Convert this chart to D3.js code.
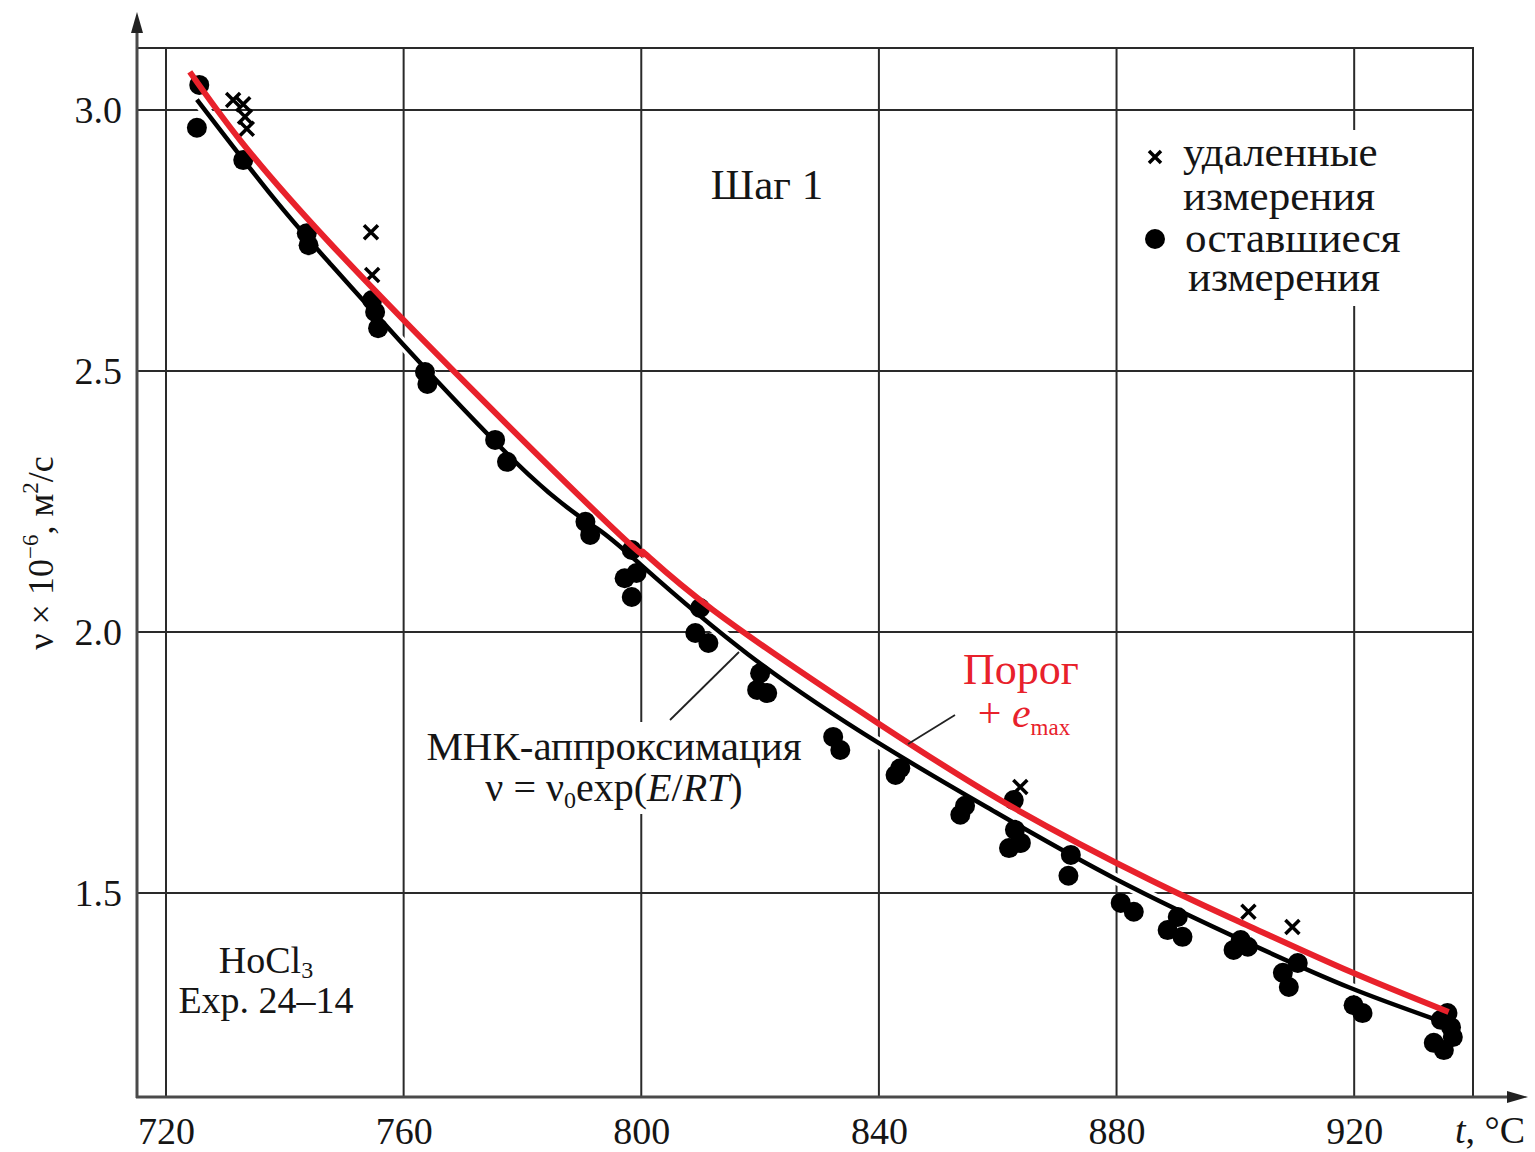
<!DOCTYPE html>
<html>
<head>
<meta charset="utf-8">
<script src="https://d3js.org/d3.v7.min.js"></script>
<style>
  body { margin: 0; background: #fff; }
  svg text { font-family: "Liberation Serif", "Times New Roman", serif; fill: #151515; }
  .grid line { stroke: #2a2a2a; stroke-width: 2; }
  .axis-line { stroke: #4a4a4a; stroke-width: 3; }
  .tick text { font-size: 38px; }
</style>
</head>
<body>
<script>
// ---- data ----
var xTicks = [720, 760, 800, 840, 880, 920];
var yTicks = [1.5, 2.0, 2.5, 3.0];

// remaining measurements (dots)
var keptT = [725.6, 725.2, 733.0, 743.7, 744.0, 754.7, 755.2, 755.7, 763.6, 764.0,
             775.4, 777.4, 790.6, 791.4, 798.4, 797.2, 798.4, 799.2, 809.9, 809.1, 811.3,
             820.0, 819.5, 821.2, 832.3, 833.5, 842.8, 843.6, 853.7, 854.5,
             862.7, 862.9, 861.9, 863.9, 872.3, 871.9, 880.7, 882.9,
             888.6, 891.1, 890.3, 899.7, 902.1, 900.9, 908.0, 909.0, 910.5, 919.9, 921.4,
             934.6, 936.3, 933.4, 935.1, 936.6, 935.7];
var keptV = [3.048, 2.966, 2.904, 2.764, 2.741, 2.636, 2.613, 2.582, 2.498, 2.475,
             2.368, 2.326, 2.211, 2.186, 2.157, 2.103, 2.067, 2.113, 2.046, 1.998, 1.979,
             1.921, 1.889, 1.883, 1.799, 1.774, 1.726, 1.739, 1.650, 1.667,
             1.678, 1.621, 1.586, 1.596, 1.573, 1.533, 1.481, 1.464,
             1.429, 1.416, 1.454, 1.391, 1.397, 1.410, 1.347, 1.320, 1.366, 1.285, 1.270,
             1.257, 1.243, 1.213, 1.199, 1.224, 1.270];

// removed measurements (crosses)
var removedT = [731.3, 733.0, 733.3, 733.6, 754.5, 754.7, 863.8, 902.2, 909.6];
var removedV = [3.019, 3.011, 2.987, 2.964, 2.766, 2.684, 1.703, 1.464, 1.435];

// least squares fit (black)
var fitT = [725.2, 738.0, 747.6, 760.0, 781.0, 792.6, 800.0, 818.0, 840.0, 859.0, 880.0, 902.6, 919.4, 933.4];
var fitV = [3.020, 2.833, 2.706, 2.550, 2.302, 2.198, 2.128, 1.957, 1.787, 1.659, 1.526, 1.402, 1.318, 1.259];

// threshold = fit + e_max (red)
var limT = [724.0, 747.6, 793.1, 800.2, 812.1, 840.3, 862.7, 885.7, 902.6, 919.4, 935.9];
var limV = [3.073, 2.745, 2.222, 2.154, 2.042, 1.822, 1.663, 1.525, 1.435, 1.349, 1.272];

var keptData = keptT.map(function(t, i) { return {t: t, v: keptV[i]}; });
var removedData = removedT.map(function(t, i) { return {t: t, v: removedV[i]}; });
var fitData = fitT.map(function(t, i) { return {t: t, v: fitV[i]}; });
var limData = limT.map(function(t, i) { return {t: t, v: limV[i]}; });

// ---- layout ----
var width = 1535, height = 1152,
    axisX = 137, plotTop = 48, axisY = 1097;

var x = d3.scaleLinear().domain([720, 940]).range([166, 1473]);
var y = d3.scaleLinear().domain([1.5, 3.0]).range([893, 110]);

var svg = d3.select("body")
  .append("svg")
    .attr("width", width)
    .attr("height", height);

svg.append("rect").attr("width", width).attr("height", height).attr("fill", "#fff");

// grid
var grid = svg.append("g").attr("class", "grid");
grid.selectAll("line.v")
  .data(xTicks.concat([940]))
  .enter().append("line")
    .attr("class", "v")
    .attr("x1", function(d) { return x(d); })
    .attr("x2", function(d) { return x(d); })
    .attr("y1", plotTop)
    .attr("y2", axisY);
grid.selectAll("line.h")
  .data(yTicks)
  .enter().append("line")
    .attr("class", "h")
    .attr("x1", axisX)
    .attr("x2", x(940))
    .attr("y1", function(d) { return y(d); })
    .attr("y2", function(d) { return y(d); });
grid.append("line")
  .attr("x1", axisX).attr("x2", x(940) + 1)
  .attr("y1", plotTop).attr("y2", plotTop);

// white patches behind text blocks (they cut the grid lines)
svg.append("rect").attr("x", 1135).attr("y", 130).attr("width", 280).attr("height", 176).attr("fill", "#fff");
svg.append("rect").attr("x", 415).attr("y", 722).attr("width", 400).attr("height", 92).attr("fill", "#fff");

// axes lines with arrows
svg.append("line").attr("class", "axis-line")
  .attr("x1", axisX).attr("x2", axisX).attr("y1", axisY + 1).attr("y2", 28);
svg.append("path")
  .attr("d", "M" + axisX + ",12L" + (axisX - 6) + ",33L" + (axisX + 6) + ",33Z")
  .attr("fill", "#222");
svg.append("line").attr("class", "axis-line")
  .attr("x1", axisX - 1).attr("x2", 1512).attr("y1", axisY).attr("y2", axisY);
svg.append("path")
  .attr("d", "M1528," + axisY + "L1507," + (axisY - 6) + "L1507," + (axisY + 6) + "Z")
  .attr("fill", "#222");

// tick labels
var xAxis = d3.axisBottom(x).tickValues(xTicks).tickSize(0).tickPadding(20);
svg.append("g")
  .attr("class", "x axis")
  .attr("transform", "translate(0," + axisY + ")")
  .call(xAxis)
  .call(function(g) { g.select(".domain").remove(); });

var yAxis = d3.axisLeft(y).tickValues(yTicks).tickFormat(d3.format(".1f")).tickSize(0).tickPadding(15);
svg.append("g")
  .attr("class", "y axis")
  .attr("transform", "translate(" + axisX + ",0)")
  .call(yAxis)
  .call(function(g) { g.select(".domain").remove(); });

svg.selectAll(".axis text")
  .attr("font-family", null)
  .attr("fill", "#151515");

// axis titles
var yTitle = svg.append("text")
  .attr("transform", "translate(53,553)rotate(-90)")
  .attr("text-anchor", "middle")
  .attr("font-size", 36);
yTitle.append("tspan").text("ν × 10");
yTitle.append("tspan").attr("font-size", 23).attr("dy", -15).text("−6");
yTitle.append("tspan").attr("dy", 15).text(", м");
yTitle.append("tspan").attr("font-size", 23).attr("dy", -15).text("2");
yTitle.append("tspan").attr("dy", 15).text("/с");

var xTitle = svg.append("text")
  .attr("x", 1455).attr("y", 1143)
  .attr("font-size", 38);
xTitle.append("tspan").attr("font-style", "italic").text("t");
xTitle.append("tspan").text(", °C");

// curves
var line = d3.line()
  .x(function(d) { return x(d.t); })
  .y(function(d) { return y(d.v); })
  .curve(d3.curveNatural);

svg.append("path")
  .datum(fitData)
  .attr("d", line)
  .attr("fill", "none")
  .attr("stroke", "#fff")
  .attr("stroke-width", 11);

// dots
svg.append("g")
  .selectAll("circle")
  .data(keptData)
  .enter().append("circle")
    .attr("cx", function(d) { return x(d.t); })
    .attr("cy", function(d) { return y(d.v); })
    .attr("r", 10)
    .attr("fill", "#000");

svg.append("path")
  .datum(fitData)
  .attr("d", line)
  .attr("fill", "none")
  .attr("stroke", "#000")
  .attr("stroke-width", 4.5);

// crosses
var cross = "M-7,-7L7,7M7,-7L-7,7";
svg.append("g")
  .selectAll("path")
  .data(removedData)
  .enter().append("path")
    .attr("transform", function(d) { return "translate(" + x(d.t) + "," + y(d.v) + ")"; })
    .attr("d", cross)
    .attr("stroke", "#000")
    .attr("stroke-width", 3.5);

svg.append("path")
  .datum(limData)
  .attr("d", line)
  .attr("fill", "none")
  .attr("stroke", "#e8212b")
  .attr("stroke-width", 6);

// leader lines
svg.append("line")
  .attr("x1", 670).attr("y1", 720).attr("x2", 739).attr("y2", 652)
  .attr("stroke", "#222").attr("stroke-width", 1.8);
svg.append("line")
  .attr("x1", 908).attr("y1", 744).attr("x2", 955).attr("y2", 715)
  .attr("stroke", "#222").attr("stroke-width", 1.8);

// annotations
svg.append("text")
  .attr("x", 767).attr("y", 199)
  .attr("text-anchor", "middle")
  .attr("font-size", 43)
  .text("Шаг 1");

svg.append("text")
  .attr("x", 614).attr("y", 760)
  .attr("text-anchor", "middle")
  .attr("font-size", 41)
  .text("МНК-аппроксимация");
var fitLabel = svg.append("text")
  .attr("x", 614).attr("y", 801)
  .attr("text-anchor", "middle")
  .attr("font-size", 40);
fitLabel.append("tspan").text("ν = ν");
fitLabel.append("tspan").attr("font-size", 24).attr("dy", 7).text("0");
fitLabel.append("tspan").attr("dy", -7).text("exp(");
fitLabel.append("tspan").attr("font-style", "italic").text("E");
fitLabel.append("tspan").text("/");
fitLabel.append("tspan").attr("font-style", "italic").text("RT");
fitLabel.append("tspan").text(")");

svg.append("text")
  .attr("x", 1021).attr("y", 684)
  .attr("text-anchor", "middle")
  .attr("font-size", 44)
  .style("fill", "#e8212b")
  .text("Порог");
var emax = svg.append("text")
  .attr("x", 1024).attr("y", 727)
  .attr("text-anchor", "middle")
  .attr("font-size", 42)
  .style("fill", "#e8212b");
emax.append("tspan").text("+ ");
emax.append("tspan").attr("font-style", "italic").text("e");
emax.append("tspan").attr("font-size", 23).attr("dy", 8).text("max");

var hocl = svg.append("text")
  .attr("x", 266).attr("y", 973)
  .attr("text-anchor", "middle")
  .attr("font-size", 38);
hocl.append("tspan").text("HoCl");
hocl.append("tspan").attr("font-size", 24).attr("dy", 5).text("3");
svg.append("text")
  .attr("x", 266).attr("y", 1013)
  .attr("text-anchor", "middle")
  .attr("font-size", 38)
  .text("Exp. 24–14");

// legend
var legend = svg.append("g").attr("class", "legend");
legend.append("path")
  .attr("transform", "translate(1155,157)")
  .attr("d", "M-6,-6L6,6M6,-6L-6,6")
  .attr("stroke", "#000")
  .attr("stroke-width", 3.5);
legend.append("circle")
  .attr("cx", 1155).attr("cy", 239).attr("r", 10)
  .attr("fill", "#000");
var legendRows = [
  {x: 1183, y: 166, s: "удаленные"},
  {x: 1183, y: 210, s: "измерения"},
  {x: 1185, y: 252, s: "оставшиеся"},
  {x: 1188, y: 291, s: "измерения"}
];
legend.selectAll("text")
  .data(legendRows)
  .enter().append("text")
    .attr("x", function(d) { return d.x; })
    .attr("y", function(d) { return d.y; })
    .attr("font-size", 43)
    .text(function(d) { return d.s; });
</script>
</body>
</html>
